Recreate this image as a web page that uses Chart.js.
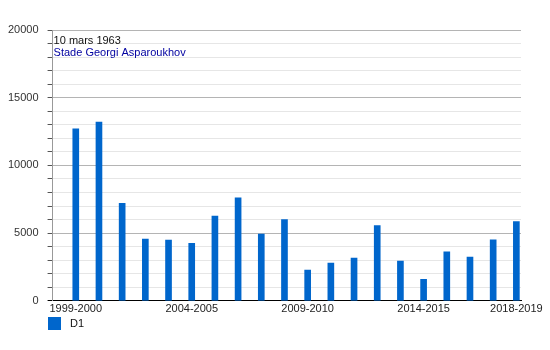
<!DOCTYPE html>
<html>
<head>
<meta charset="utf-8">
<script src="https://cdn.jsdelivr.net/npm/chart.js@4/dist/chart.umd.min.js"></script>
<style>
    html, body { margin: 0; padding: 0; background: #fff; }
    #wrap { width: 550px; height: 350px; position: relative; }
</style>
</head>
<body>
<div id="wrap"><canvas id="chart"></canvas></div>
<script>
// affluence moyenne par saison
const seasons = [
    '1999-2000', '2000-2001', '2001-2002', '2002-2003', '2003-2004',
    '2004-2005', '2005-2006', '2006-2007', '2007-2008', '2008-2009',
    '2009-2010', '2010-2011', '2011-2012', '2012-2013', '2013-2014',
    '2014-2015', '2015-2016', '2016-2017', '2017-2018', '2018-2019'
];
const attendance = [
    12700, 13200, 7200, 4550, 4480,
    4250, 6250, 7600, 4930, 6000,
    2270, 2790, 3160, 5550, 2940,
    1590, 3610, 3230, 4500, 5850
];
const shownLabels = ['1999-2000', '2004-2005', '2009-2010', '2014-2015', '2018-2019'];
const yTicks = [0, 5000, 10000, 15000, 20000];
const seriesName = 'D1';
const noteDate = '10 mars 1963';
const noteStadium = 'Stade Georgi Asparoukhov';

const FONT = "'Liberation Sans', Arial, sans-serif";
const BAR_COLOR = '#0066cc';

// textes en haut a gauche + legende en bas
const notesPlugin = {
    id: 'notes',
    afterDraw(chart) {
        const ctx = chart.ctx;
        const area = chart.chartArea;
        ctx.save();
        ctx.font = '11px ' + FONT;
        ctx.textBaseline = 'alphabetic';
        ctx.textAlign = 'left';
        ctx.fillStyle = '#111';
        ctx.fillText(noteDate, area.left + 1, area.top + 14);
        ctx.fillStyle = '#0000a0';
        ctx.fillText(noteStadium, area.left + 1, area.top + 26);

        // legende
        ctx.fillStyle = BAR_COLOR;
        ctx.fillRect(48, 317, 13, 13);
        ctx.fillStyle = '#111';
        ctx.textBaseline = 'middle';
        ctx.fillText(chart.data.datasets[0].label, 70, 324);
        ctx.restore();
    }
};

new Chart(document.getElementById('chart'), {
    type: 'bar',
    data: {
        datasets: [{
            label: seriesName,
            data: attendance.map((v, i) => ({ x: i + 1, y: v })),
            backgroundColor: BAR_COLOR,
            borderWidth: 0,
            barThickness: 6,
        }],
    },
    options: {
        responsive: true,
        maintainAspectRatio: false,
        animation: false,
        layout: { padding: { left: -1, right: 29, top: 30, bottom: 32 } },
        plugins: {
            legend: { display: false },
            tooltip: { enabled: false },
        },
        scales: {
            x: {
                type: 'linear',
                offset: false,
                min: 0,
                max: 20.2,
                afterBuildTicks: (axis) => {
                    axis.ticks = shownLabels.map(s => ({ value: seasons.indexOf(s) + 1 }));
                },
                ticks: {
                    autoSkip: false,
                    maxRotation: 0,
                    padding: 2,
                    color: '#222',
                    font: { family: FONT, size: 11 },
                    callback: (v) => seasons[v - 1],
                },
                grid: { display: false, drawTicks: false },
                border: { color: '#000', width: 1 },
            },
            y: {
                min: 0,
                max: 20000,
                ticks: {
                    stepSize: 1000,
                    autoSkip: false,
                    padding: 9,
                    color: '#333',
                    font: { family: FONT, size: 11 },
                    callback: (v) => yTicks.includes(v) ? v : '',
                },
                grid: {
                    color: (c) => c.tick.value === 0 ? '#000' : (c.tick.value % 5000 === 0 ? '#b4b4b4' : '#e6e6e6'),
                    tickColor: (c) => c.tick.value === 0 ? '#000' : '#555',
                    tickLength: 5,
                    lineWidth: 1,
                },
                border: { color: '#999', width: 1 },
            },
        },
    },
    plugins: [notesPlugin],
});
</script>
</body>
</html>
